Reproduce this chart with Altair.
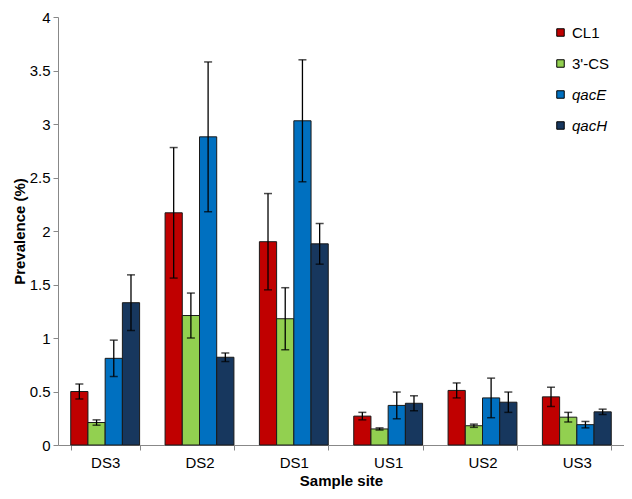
import altair as alt
import pandas as pd

sites = ["DS3", "DS2", "DS1", "US1", "US2", "US3"]
genes = ["CL1", "3'-CS", "qacE", "qacH"]
colors = ["#C00000", "#92D050", "#0070C0", "#17375E"]

cl1 = [0.50, 2.17, 1.90, 0.27, 0.51, 0.45]
cs3 = [0.21, 1.21, 1.18, 0.15, 0.18, 0.26]
qace = [0.81, 2.88, 3.03, 0.37, 0.44, 0.19]
qach = [1.33, 0.82, 1.88, 0.39, 0.40, 0.31]

cl1_err = [0.07, 0.61, 0.45, 0.035, 0.07, 0.09]
cs3_err = [0.025, 0.21, 0.29, 0.01, 0.015, 0.045]
qace_err = [0.17, 0.70, 0.57, 0.125, 0.185, 0.03]
qach_err = [0.26, 0.04, 0.19, 0.07, 0.095, 0.025]

vals = [cl1, cs3, qace, qach]
errs = [cl1_err, cs3_err, qace_err, qach_err]

rows = []
for g, v, e in zip(genes, vals, errs):
    for s, vv, ee in zip(sites, v, e):
        rows.append({"site": s, "gene": g, "value": vv, "lo": vv - ee, "hi": vv + ee})
df = pd.DataFrame(rows)

FONT = "Liberation Sans"

x_enc = alt.X(
    "site:N",
    sort=sites,
    scale=alt.Scale(paddingInner=0.27, paddingOuter=0.135),
    axis=alt.Axis(
        title="Sample site",
        labelAngle=0,
        tickBand="extent",
        tickSize=5,
        labelPadding=5,
        titlePadding=3,
        domainColor="#888888",
        tickColor="#888888",
        labelFontSize=15,
        titleFontSize=15,
        titleFontWeight="bold",
        labelColor="#000000",
        titleColor="#000000",
        labelFont=FONT,
        titleFont=FONT,
        grid=False,
    ),
)
xoff = alt.XOffset("gene:N", sort=genes, scale=alt.Scale(paddingInner=0, paddingOuter=0))

y_scale = alt.Scale(domain=[0, 4], nice=False)

bars = alt.Chart(df).mark_bar(stroke="#1a1a1a", strokeWidth=1).encode(
    x=x_enc,
    xOffset=xoff,
    y=alt.Y(
        "value:Q",
        scale=y_scale,
        axis=alt.Axis(
            title="Prevalence  (%)",
            values=[0, 0.5, 1, 1.5, 2, 2.5, 3, 3.5, 4],
            format="~g",
            tickSize=5,
            labelPadding=3,
            titlePadding=2,
            domainColor="#888888",
            tickColor="#888888",
            labelFontSize=15,
            titleFontSize=15,
            titleFontWeight="bold",
            labelColor="#000000",
            titleColor="#000000",
            labelFont=FONT,
            titleFont=FONT,
            grid=False,
        ),
    ),
    color=alt.Color(
        "gene:N",
        sort=genes,
        scale=alt.Scale(domain=genes, range=colors),
        legend=alt.Legend(
            title=None,
            orient="none",
            legendX=495,
            legendY=8,
            padding=0,
            symbolType="square",
            symbolSize=56,
            symbolStrokeColor="#000000",
            symbolStrokeWidth=1,
            symbolOpacity=1,
            labelFontSize=15,
            labelFont=FONT,
            labelColor="#000000",
            labelOffset=4,
            rowPadding=15,
            labelFontStyle=alt.ExprRef(
                "(datum.label == 'qacE' || datum.label == 'qacH') ? 'italic' : 'normal'"
            ),
        ),
    ),
)

rules = alt.Chart(df).mark_rule(color="#000000", strokeWidth=1.3).encode(
    x=alt.X("site:N", sort=sites),
    xOffset=xoff,
    y=alt.Y("lo:Q", scale=y_scale),
    y2="hi:Q",
)

caps_hi = alt.Chart(df).mark_tick(color="#000000", thickness=1.5, size=8).encode(
    x=alt.X("site:N", sort=sites),
    xOffset=xoff,
    y=alt.Y("hi:Q", scale=y_scale),
)
caps_lo = alt.Chart(df).mark_tick(color="#000000", thickness=1.5, size=8).encode(
    x=alt.X("site:N", sort=sites),
    xOffset=xoff,
    y=alt.Y("lo:Q", scale=y_scale),
)

chart = (
    alt.layer(bars, rules, caps_hi, caps_lo)
    .properties(
        width=566,
        height=428,
        autosize=alt.AutoSizeParams(type="none"),
        padding={"left": 50, "top": 9, "right": 0, "bottom": 46},
    )
    .configure_view(stroke=None)
)

chart.save("out.html", embed_options={"renderer": "svg", "actions": False})
